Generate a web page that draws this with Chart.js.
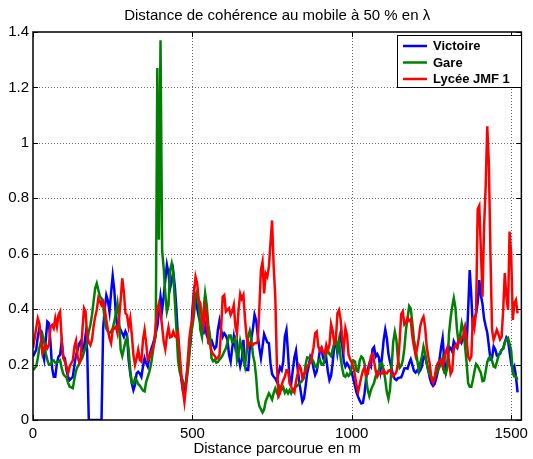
<!DOCTYPE html>
<html>
<head>
<meta charset="utf-8">
<script src="https://cdn.jsdelivr.net/npm/chart.js@4/dist/chart.umd.min.js"></script>
<style>
html,body{margin:0;padding:0;background:#fff;}
#wrap{width:533px;height:459px;position:relative;}
</style>
</head>
<body>
<div id="wrap"><canvas id="c" width="533" height="459"></canvas></div>
<script>
// ---- data: distance travelled (m) and coherence distance (in lambda) ----
const distances = [
  0,5,10,15,20,25,30,35,40,45,50,55,60,65,70,75,80,85,90,95,
  100,105,110,115,120,125,130,135,140,145,150,155,160,165,170,175,180,185,190,195,
  200,205,210,215,220,225,230,235,240,245,250,255,260,265,270,275,280,285,290,295,
  300,305,310,315,320,325,330,335,340,345,350,355,360,365,370,375,380,385,390,395,
  400,405,410,415,420,425,430,435,440,445,450,455,460,465,470,475,480,485,490,495,
  500,505,510,515,520,525,530,535,540,545,550,555,560,565,570,575,580,585,590,595,
  600,605,610,615,620,625,630,635,640,645,650,655,660,665,670,675,680,685,690,695,
  700,705,710,715,720,725,730,735,740,745,750,755,760,765,770,775,780,785,790,795,
  800,805,810,815,820,825,830,835,840,845,850,855,860,865,870,875,880,885,890,895,
  900,905,910,915,920,925,930,935,940,945,950,955,960,965,970,975,980,985,990,995,
  1000,1005,1010,1015,1020,1025,1030,1035,1040,1045,1050,1055,1060,1065,1070,1075,1080,1085,1090,1095,
  1100,1105,1110,1115,1120,1125,1130,1135,1140,1145,1150,1155,1160,1165,1170,1175,1180,1185,1190,1195,
  1200,1205,1210,1215,1220,1225,1230,1235,1240,1245,1250,1255,1260,1265,1270,1275,1280,1285,1290,1295,
  1300,1305,1310,1315,1320,1325,1330,1335,1340,1345,1350,1355,1360,1365,1370,1375,1380,1385,1390,1395,
  1400,1405,1410,1415,1420,1425,1430,1435,1440,1445,1450,1455,1460,1465,1470,1475,1480,1485,1490,1495,
  1500,1505,1510,1515,1520
];
const victoire = [
  0.229,0.241,0.253,0.301,0.331,0.319,0.241,0.217,0.289,0.355,
  0.349,0.277,0.187,0.156,0.156,0.205,0.229,0.235,0.283,0.229,
  0.223,0.18,0.156,0.144,0.15,0.156,0.199,0.235,0.253,0.275,
  0.285,0.253,0.265,0.307,0.253,0,0,0,0,0,
  0,0,0,0,0.33,0.40,0.45,0.43,0.39,0.46,
  0.52,0.47,0.38,0.33,0.337,0.325,0.313,0.30,0.32,0.307,
  0.217,0.168,0.132,0.108,0.126,0.168,0.174,0.168,0.156,0.193,
  0.223,0.205,0.193,0.229,0.253,0.27,0.289,0.313,0.337,0.39,
  0.445,0.397,0.445,0.505,0.56,0.53,0.475,0.50,0.535,0.481,
  0.397,0.289,0.205,0.15,0.108,0.108,0.138,0.193,0.241,0.289,
  0.397,0.463,0.44,0.404,0.373,0.349,0.313,0.313,0.343,0.307,
  0.29,0.289,0.289,0.27,0.257,0.265,0.325,0.358,0.325,0.30,
  0.313,0.305,0.289,0.235,0.211,0.26,0.301,0.26,0.277,0.225,
  0.193,0.217,0.289,0.193,0.18,0.18,0.26,0.295,0.33,0.38,
  0.36,0.307,0.26,0.223,0.265,0.31,0.295,0.28,0.277,0.205,
  0.166,0.156,0.15,0.138,0.168,0.19,0.18,0.211,0.301,0.325,
  0.241,0.144,0.132,0.18,0.226,0.25,0.187,0.138,0.102,0.066,
  0.078,0.12,0.168,0.195,0.229,0.217,0.187,0.162,0.175,0.21,
  0.253,0.259,0.223,0.211,0.223,0.175,0.144,0.159,0.205,0.265,
  0.289,0.241,0.277,0.31,0.27,0.211,0.193,0.205,0.195,0.183,
  0.171,0.147,0.123,0.099,0.084,0.07,0.06,0.062,0.096,0.15,
  0.183,0.203,0.193,0.255,0.263,0.229,0.238,0.226,0.18,0.229,
  0.289,0.326,0.295,0.238,0.21,0.185,0.16,0.148,0.144,0.151,
  0.153,0.154,0.168,0.186,0.187,0.185,0.205,0.219,0.199,0.177,
  0.171,0.179,0.171,0.18,0.193,0.229,0.229,0.205,0.18,0.15,
  0.132,0.123,0.13,0.15,0.175,0.217,0.26,0.295,0.217,0.174,
  0.205,0.265,0.259,0.247,0.284,0.271,0.262,0.293,0.306,0.282,
  0.298,0.327,0.26,0.397,0.541,0.445,0.325,0.368,0.384,0.424,
  0.505,0.45,0.419,0.366,0.339,0.315,0.268,0.219,0.224,0.265,
  0.255,0.233,0.236,0.238,0.253,0.258,0.28,0.298,0.289,0.247,
  0.204,0.181,0.193,0.157,0.10
];
const gare = [
  0.18,0.187,0.193,0.223,0.26,0.283,0.307,0.283,0.241,0.217,
  0.199,0.199,0.211,0.215,0.207,0.207,0.211,0.215,0.187,0.166,
  0.158,0.154,0.134,0.12,0.118,0.115,0.15,0.178,0.193,0.202,
  0.215,0.226,0.245,0.262,0.283,0.319,0.343,0.379,0.427,0.475,
  0.493,0.469,0.445,0.439,0.415,0.361,0.331,0.319,0.313,0.319,
  0.331,0.355,0.385,0.421,0.361,0.253,0.231,0.257,0.283,0.297,
  0.253,0.18,0.134,0.13,0.15,0.144,0.13,0.124,0.115,0.106,
  0.103,0.138,0.156,0.174,0.199,0.238,0.279,0.301,1.27,0.65,
  1.37,0.613,0.547,0.457,0.391,0.415,0.541,0.565,0.529,0.427,
  0.325,0.217,0.174,0.156,0.142,0.126,0.132,0.168,0.229,0.307,
  0.337,0.379,0.447,0.464,0.419,0.325,0.30,0.397,0.457,0.415,
  0.343,0.307,0.223,0.212,0.217,0.207,0.209,0.218,0.225,0.234,
  0.247,0.259,0.28,0.305,0.305,0.281,0.282,0.295,0.217,0.241,
  0.286,0.26,0.225,0.195,0.241,0.301,0.322,0.291,0.234,0.208,
  0.156,0.078,0.05,0.039,0.027,0.038,0.068,0.082,0.096,0.086,
  0.074,0.098,0.114,0.098,0.087,0.12,0.11,0.118,0.098,0.108,
  0.096,0.108,0.096,0.108,0.114,0.12,0.125,0.131,0.137,0.143,
  0.152,0.199,0.226,0.225,0.225,0.221,0.21,0.193,0.19,0.212,
  0.219,0.2,0.199,0.221,0.243,0.25,0.238,0.231,0.255,0.277,
  0.289,0.253,0.289,0.223,0.187,0.16,0.156,0.167,0.159,0.166,
  0.199,0.215,0.211,0.178,0.175,0.215,0.229,0.223,0.203,0.15,
  0.108,0.086,0.108,0.122,0.134,0.159,0.169,0.181,0.205,0.205,
  0.18,0.146,0.1,0.077,0.111,0.193,0.282,0.318,0.289,0.217,
  0.188,0.195,0.215,0.259,0.325,0.368,0.411,0.402,0.349,0.29,
  0.258,0.219,0.18,0.207,0.229,0.265,0.241,0.205,0.18,0.161,
  0.156,0.147,0.154,0.166,0.178,0.19,0.203,0.223,0.171,0.166,
  0.193,0.313,0.368,0.409,0.44,0.406,0.327,0.279,0.306,0.349,
  0.325,0.27,0.209,0.133,0.12,0.12,0.145,0.177,0.202,0.195,
  0.182,0.17,0.14,0.142,0.176,0.209,0.224,0.229,0.214,0.193,
  0.19,0.209,0.231,0.243,0.253,0.257,0.28,0.291,0.296,0.275,
  0.251,0.169,0.157,0.157,0.145
];
const lycee = [
  0.259,0.295,0.331,0.367,0.349,0.295,0.241,0.259,0.271,0.259,
  0.271,0.337,0.343,0.331,0.367,0.337,0.379,0.391,0.289,0.223,
  0.211,0.193,0.168,0.193,0.205,0.215,0.265,0.286,0.229,0.207,
  0.223,0.325,0.403,0.391,0.301,0.28,0.27,0.289,0.337,0.373,
  0.397,0.44,0.427,0.415,0.427,0.403,0.361,0.325,0.295,0.277,
  0.325,0.331,0.337,0.313,0.367,0.433,0.511,0.463,0.385,0.379,
  0.337,0.367,0.307,0.235,0.199,0.223,0.253,0.217,0.211,0.289,
  0.325,0.277,0.215,0.223,0.243,0.255,0.277,0.337,0.397,0.421,
  0.385,0.339,0.283,0.255,0.303,0.334,0.298,0.301,0.319,0.303,
  0.298,0.315,0.241,0.168,0.108,0.065,0.12,0.205,0.289,0.337,
  0.361,0.457,0.517,0.493,0.433,0.421,0.361,0.337,0.406,0.376,
  0.277,0.274,0.247,0.238,0.231,0.22,0.224,0.235,0.325,0.445,
  0.451,0.391,0.397,0.403,0.379,0.391,0.415,0.337,0.313,0.40,
  0.455,0.437,0.451,0.365,0.301,0.265,0.277,0.277,0.271,0.277,
  0.277,0.283,0.403,0.541,0.571,0.457,0.529,0.517,0.553,0.638,
  0.72,0.553,0.445,0.205,0.086,0.096,0.126,0.144,0.156,0.18,
  0.179,0.132,0.12,0.108,0.099,0.139,0.166,0.197,0.187,0.15,
  0.168,0.172,0.193,0.2,0.207,0.231,0.262,0.313,0.319,0.265,
  0.25,0.262,0.246,0.238,0.271,0.25,0.271,0.346,0.322,0.277,
  0.289,0.385,0.397,0.363,0.295,0.259,0.331,0.307,0.235,0.219,
  0.207,0.19,0.162,0.123,0.102,0.129,0.156,0.178,0.19,0.162,
  0.166,0.195,0.229,0.238,0.211,0.178,0.157,0.168,0.168,0.168,
  0.18,0.169,0.168,0.178,0.18,0.17,0.158,0.164,0.175,0.203,
  0.282,0.382,0.392,0.345,0.353,0.368,0.358,0.363,0.301,0.266,
  0.235,0.259,0.295,0.339,0.361,0.373,0.337,0.265,0.229,0.199,
  0.147,0.134,0.154,0.19,0.205,0.214,0.217,0.193,0.214,0.248,
  0.262,0.211,0.166,0.178,0.257,0.27,0.264,0.286,0.281,0.298,
  0.301,0.332,0.295,0.229,0.217,0.229,0.373,0.337,0.392,0.76,
  0.773,0.613,0.445,0.698,0.842,1.06,0.926,0.60,0.325,0.289,
  0.306,0.325,0.31,0.291,0.301,0.397,0.53,0.445,0.397,0.68,
  0.60,0.361,0.421,0.433,0.385
];
const seriesNames = ['Victoire', 'Gare', 'Lycée JMF 1'];
const seriesColors = ['#0000ff', '#008000', '#ff0000'];
const xTicks = [0, 500, 1000, 1500];
const yTicks = [0, 0.2, 0.4, 0.6, 0.8, 1, 1.2, 1.4];
const yTickLabels = ['0', '0.2', '0.4', '0.6', '0.8', '1', '1.2', '1.4'];
const titleText = 'Distance de cohérence au mobile à 50 % en λ';
const xAxisLabel = 'Distance parcourue en m';

const FONT = '"Liberation Sans", Arial, Helvetica, sans-serif';
const seriesValues = [victoire, gare, lycee];
const toPoints = ys => ys.map((y, i) => ({x: distances[i], y: y}));

const framePlugin = {
  id: 'matlabFrame',
  beforeDatasetsDraw(chart) {
    const {ctx, chartArea: a, scales: {x, y}} = chart;
    ctx.save();
    ctx.strokeStyle = 'rgba(0,0,0,0.6)';
    ctx.lineWidth = 1;
    ctx.setLineDash([1, 2]);
    xTicks.forEach(v => {
      const px = Math.round(x.getPixelForValue(v)) + 0.5;
      if (px > a.left + 2 && px < a.right - 2) {
        ctx.beginPath(); ctx.moveTo(px, a.top); ctx.lineTo(px, a.bottom); ctx.stroke();
      }
    });
    yTicks.forEach(v => {
      const py = Math.round(y.getPixelForValue(v)) + 0.5;
      if (py > a.top + 2 && py < a.bottom - 2) {
        ctx.beginPath(); ctx.moveTo(a.left, py); ctx.lineTo(a.right, py); ctx.stroke();
      }
    });
    ctx.restore();
  },
  afterDatasetsDraw(chart) {
    const {ctx, chartArea: a, scales: {x, y}} = chart;
    ctx.save();
    ctx.setLineDash([]);
    ctx.strokeStyle = '#000';
    ctx.lineWidth = 1.5;
    ctx.strokeRect(a.left, a.top, a.right - a.left, a.bottom - a.top);
    const tl = 5;
    ctx.lineWidth = 1;
    xTicks.forEach(v => {
      const px = Math.round(x.getPixelForValue(v)) + 0.5;
      ctx.beginPath();
      ctx.moveTo(px, a.bottom); ctx.lineTo(px, a.bottom - tl);
      ctx.moveTo(px, a.top); ctx.lineTo(px, a.top + tl);
      ctx.stroke();
    });
    yTicks.forEach(v => {
      const py = Math.round(y.getPixelForValue(v)) + 0.5;
      ctx.beginPath();
      ctx.moveTo(a.left, py); ctx.lineTo(a.left + tl, py);
      ctx.moveTo(a.right, py); ctx.lineTo(a.right - tl, py);
      ctx.stroke();
    });
    // legend box
    const bx = 397, by = 35, bw = 124, bh = 52;
    ctx.fillStyle = '#fff';
    ctx.fillRect(bx, by, bw, bh);
    ctx.lineWidth = 1;
    ctx.strokeRect(bx + 0.5, by + 0.5, bw, bh);
    ctx.font = 'bold 13px ' + FONT;
    ctx.textBaseline = 'middle';
    ctx.textAlign = 'left';
    chart.data.datasets.forEach((ds, i) => {
      const ly = by + 11 + i * 16.5;
      ctx.strokeStyle = ds.borderColor;
      ctx.lineWidth = 2.5;
      ctx.beginPath(); ctx.moveTo(bx + 6, ly); ctx.lineTo(bx + 30, ly); ctx.stroke();
      ctx.fillStyle = '#000';
      ctx.fillText(ds.label, bx + 36, ly + 0.5);
    });
    // title and x label
    const cx = (a.left + a.right) / 2;
    ctx.fillStyle = '#000';
    ctx.textAlign = 'center';
    ctx.font = '15px ' + FONT;
    ctx.fillText(titleText, cx, 16);
    ctx.fillText(xAxisLabel, cx, 449);
    ctx.restore();
  }
};

new Chart(document.getElementById('c'), {
  type: 'line',
  data: {
    datasets: seriesValues.map((vals, i) => ({
      label: seriesNames[i],
      data: toPoints(vals),
      borderColor: seriesColors[i],
      backgroundColor: seriesColors[i],
      borderWidth: 2.5,
      pointRadius: 0,
      tension: 0,
      fill: false,
      order: 3 - i
    }))
  },
  options: {
    responsive: false,
    animation: false,
    devicePixelRatio: 1,
    layout: {padding: {top: 32, right: 7, left: 0, bottom: 0}},
    plugins: {legend: {display: false}, title: {display: false}, tooltip: {enabled: false}},
    scales: {
      x: {
        type: 'linear', min: 0, max: 1532,
        afterBuildTicks: s => { s.ticks = xTicks.map(v => ({value: v})); },
        afterFit: s => { s.height = 39; },
        grid: {display: false, drawTicks: false},
        border: {display: false},
        ticks: {autoSkip: false, maxRotation: 0, padding: 5, color: '#000', font: {size: 15, family: FONT},
                callback: v => String(v)}
      },
      y: {
        type: 'linear', min: 0, max: 1.4,
        afterBuildTicks: s => { s.ticks = yTicks.map(v => ({value: v})); },
        afterFit: s => { s.width = 33; },
        grid: {display: false, drawTicks: false},
        border: {display: false},
        ticks: {autoSkip: false, padding: 4, color: '#000', font: {size: 15, family: FONT},
                callback: (v, idx) => yTickLabels[idx]}
      }
    }
  },
  plugins: [framePlugin]
});
</script>
</body>
</html>
